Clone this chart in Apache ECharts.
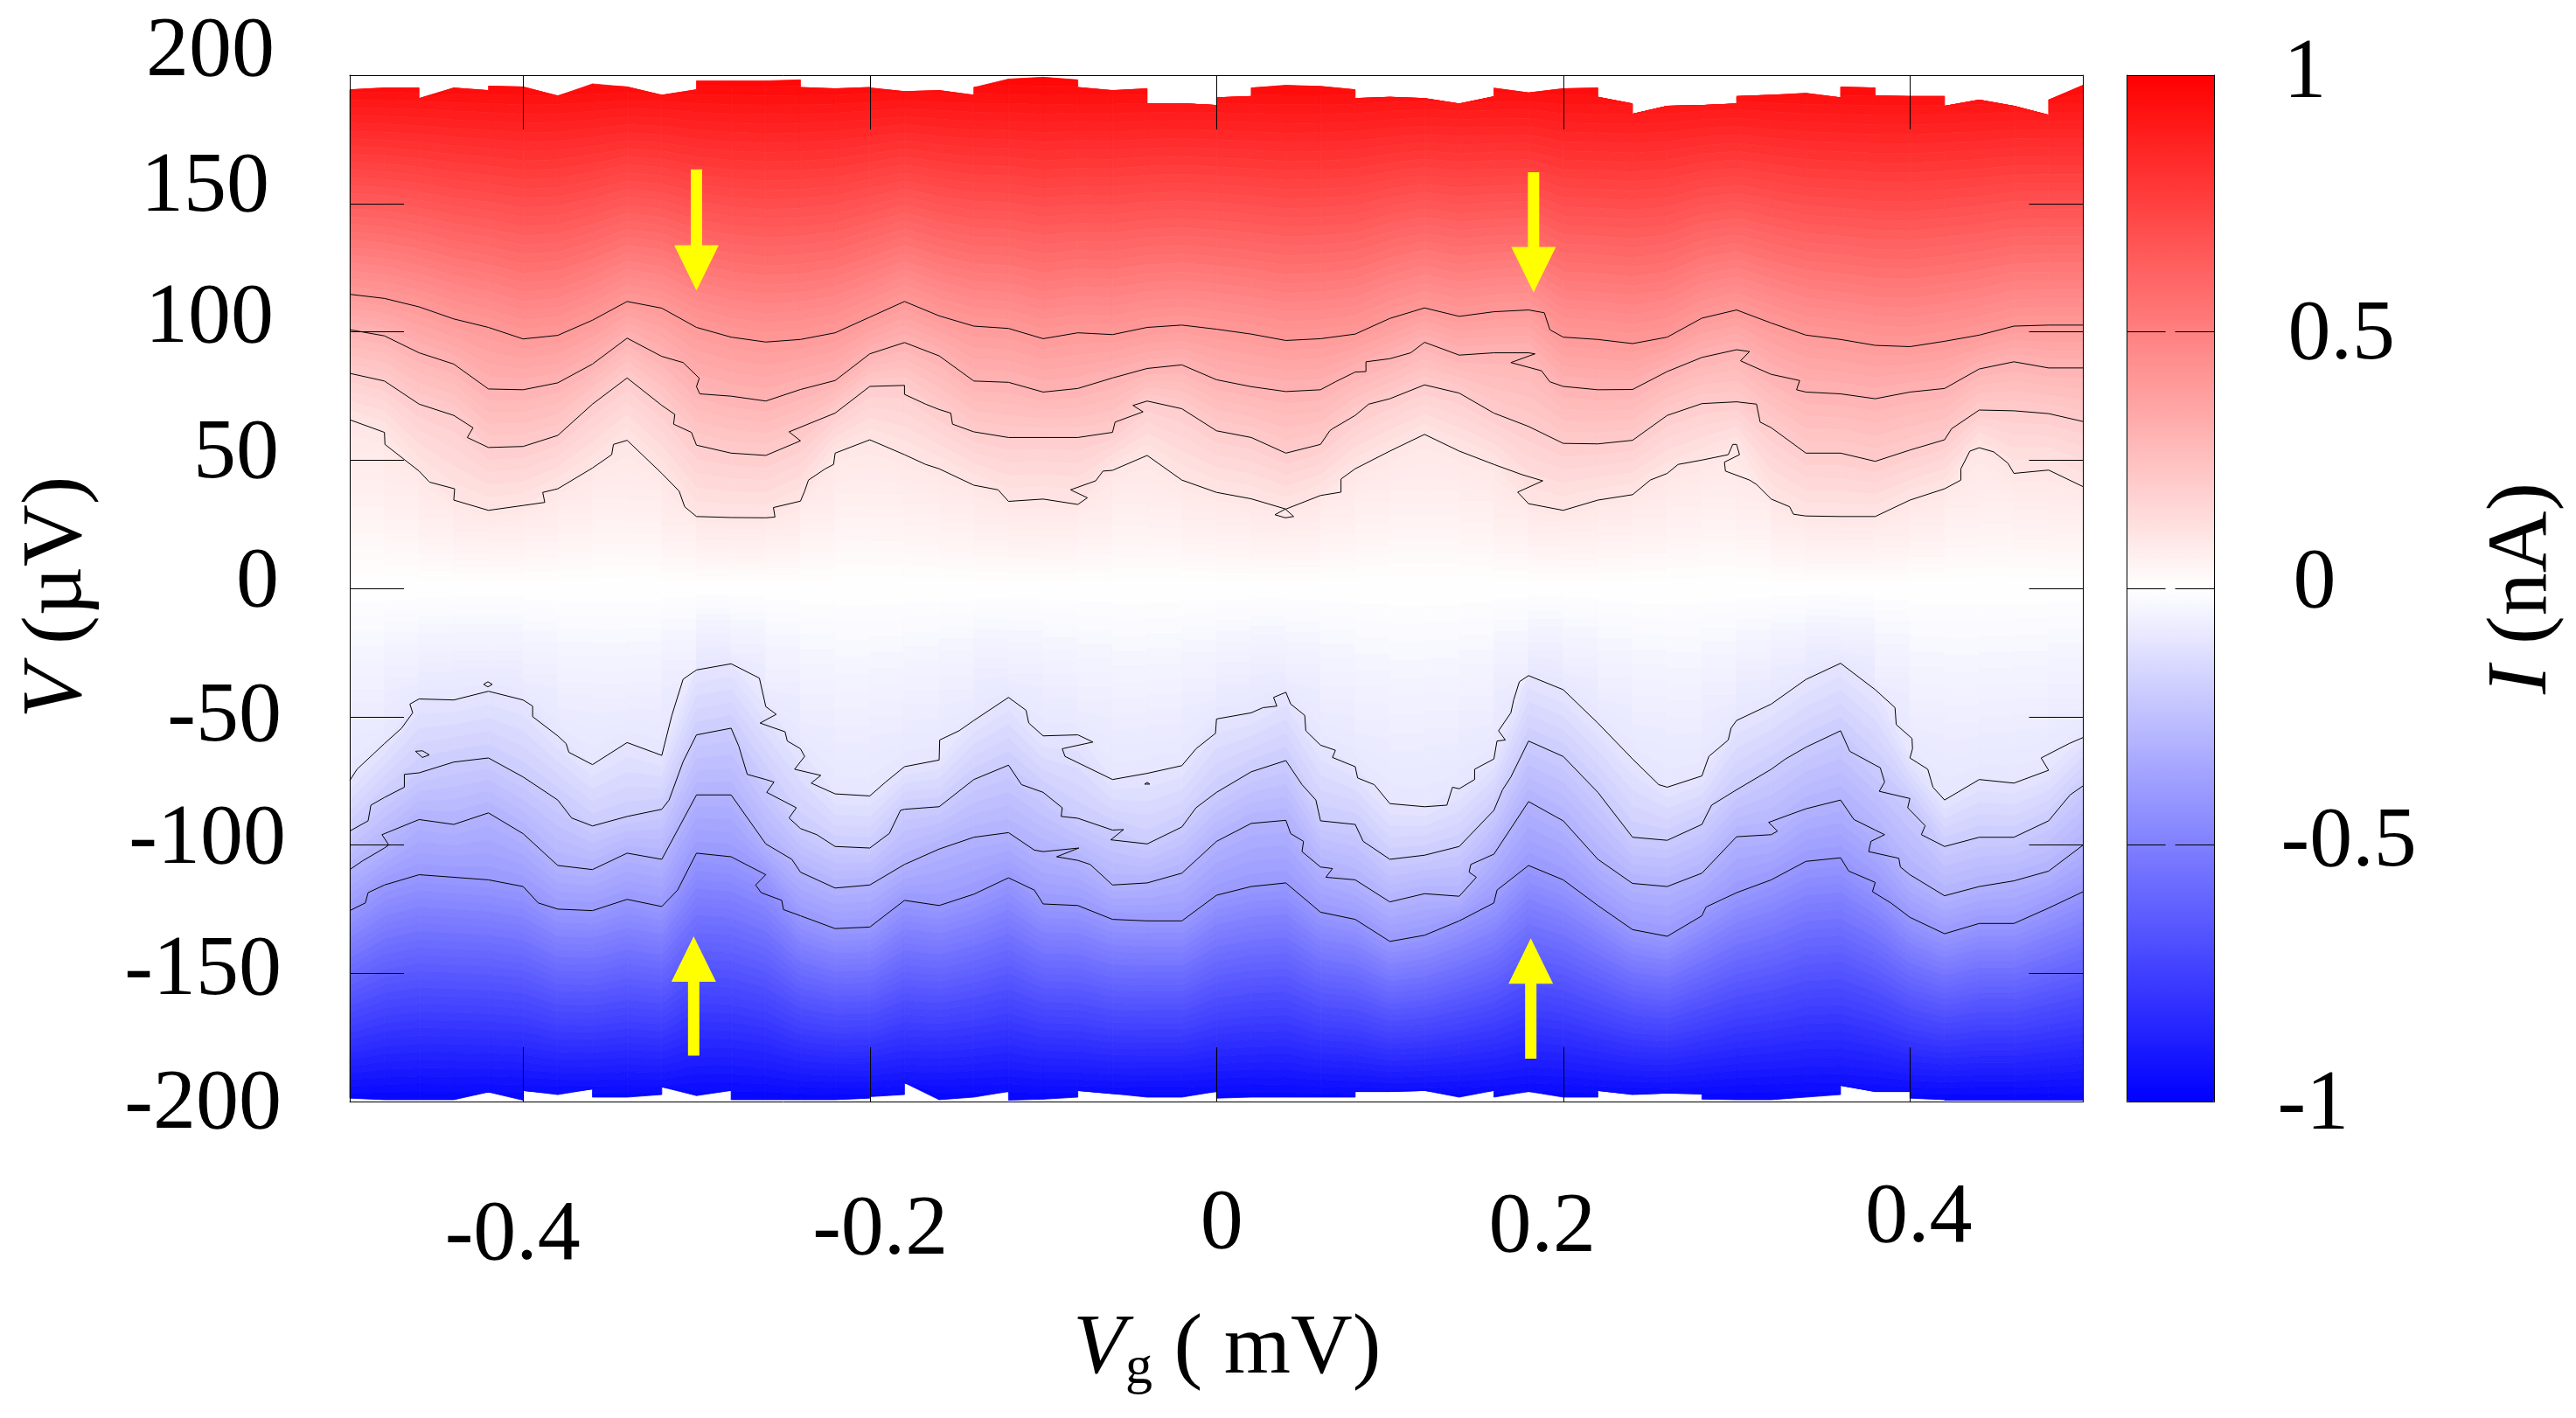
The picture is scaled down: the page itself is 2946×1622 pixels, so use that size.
<!DOCTYPE html>
<html><head><meta charset="utf-8">
<style>html,body{margin:0;padding:0;background:#fff}#c{width:2946px;height:1622px}</style>
<script src="https://cdn.jsdelivr.net/npm/echarts@6/dist/echarts.min.js"></script>
</head><body><div id="c"></div>
<script>
// ---- data (Vg in mV, V in uV, I in nA) ----
const vg = [-0.5,-0.48,-0.46,-0.44,-0.42,-0.4,-0.38,-0.36,-0.34,-0.32,-0.3,-0.28,-0.26,-0.24,-0.22,-0.2,-0.18,-0.16,-0.14,-0.12,-0.1,-0.08,-0.06,-0.04,-0.02,0,0.02,0.04,0.06,0.08,0.1,0.12,0.14,0.16,0.18,0.2,0.22,0.24,0.26,0.28,0.3,0.32,0.34,0.36,0.38,0.4,0.42,0.44,0.46,0.48,0.5];

// out-of-range boundary of each measured column: value at its left and right side
const topLeft  = [194.3,195,190.9,195,195.7,195.4,191.9,196.6,195.4,192.2,197.8,197.8,197.8,195.2,194.7,195,193.6,194,195.2,198.5,199.2,195.2,194,188.8,188.9,191.2,195,196.1,195.6,190.9,191.4,190.9,188.8,194.9,193.1,194.7,191.4,184.8,187.9,188.2,191.7,192.2,192.9,195.4,191.9,191.7,187.9,190.3,187.9,190.3];
const topRight = [195,195,195,194,195.4,191.9,196.6,195.4,192.2,194.3,197.8,197.8,198.2,194.7,195.2,193.6,194,192.2,198.5,199.2,198.2,194,194.7,188.9,188.2,191.7,196.1,195.6,194.3,191.4,190.9,188.8,191.6,193.1,194.7,195,188.8,187.9,188.2,188.8,192.2,192.9,191.2,195,191.7,191.7,190.3,187.9,184.4,196.1];
const botLeft  = [-198.7,-199.3,-199.3,-199.3,-196.3,-195.7,-197.3,-198.3,-198.3,-194.3,-197.7,-199.3,-199.3,-199.3,-199.3,-198.1,-192.7,-199.3,-198.3,-199.7,-199.1,-195.7,-196.9,-198.3,-198.3,-198.7,-198.3,-198.3,-198.3,-196.1,-196.1,-195.7,-198.3,-198.3,-196.1,-198.3,-195.7,-197.3,-196.7,-199.1,-199.3,-199.3,-198.3,-193.7,-196.1,-198.7,-199.5,-199.5,-199.5,-199.5];
const botRight = [-199.3,-199.3,-199.3,-196.3,-199.7,-197.3,-195.1,-198.3,-197.3,-197.7,-195.7,-199.3,-199.3,-199.3,-198.7,-197.3,-199.3,-198.3,-196.1,-199.1,-198.3,-196.9,-198.3,-198.3,-196.1,-198.3,-198.3,-198.3,-198.3,-196.1,-195.7,-198.3,-195.7,-196.1,-198.3,-198.3,-197.3,-196.7,-197.1,-199.3,-199.3,-198.3,-197.3,-196.1,-196.1,-199.3,-199.5,-199.5,-199.5,-199.7];

// contours: a number is V at the next column of vg; a pair [Vg, V] is a fold vertex between columns
const contourPos04 = [114.6,113,109.7,105,101.7,97.2,98.6,104.5,111.8,109.2,101.7,97.9,96,97,99.6,105.7,111.8,106.2,102.2,101.3,97.3,99.6,98.9,101.7,102.6,101,99.1,96.6,97.3,99.1,105.2,109.3,106,107.8,108.5,[0.1891,107.4],[0.1923,100.8],97.9,97,95.4,97.9,105.3,108.5,103.4,98.7,97,94.7,94.2,96.3,98.7,102.2,102.6,102.6];
const contourPos03 = [100.8,98.4,91.8,87.4,77.7,77.4,80.1,87.4,97.5,90.4,[-0.3077,88],[-0.2984,81.9],78.6,[-0.2981,75.8],74.9,73,77.5,81,91.4,95.8,90.6,80.8,80.3,76.5,77.9,82,85.7,87.1,81.3,78.6,76.7,77.4,[0.0686,80.5],84.3,[0.0862,84.5],[0.0862,88.3],89.5,[0.112,91.8],95.9,90.9,91.8,91.8,[0.1837,91.4],[0.1698,88],[0.1875,84.8],[0.1923,80.5],78.7,77.4,77.5,84.5,90,93,[0.3075,92.3],[0.3023,88.7],[0.3075,87.1],83.4,[0.3364,81],[0.3346,77.4],76.5,75.8,73.9,76.5,77.9,85.5,88.3,85.9,85.9];
const contourPos02 = [83.8,80.8,71.8,67.4,[-0.4289,62.6],[-0.4322,58.8],54.9,55.3,59.6,71.8,82,71.3,[-0.3125,67.8],[-0.3132,64],[-0.3029,60.8],55.8,52.7,51.8,57.5,[-0.2466,61],68.3,78.7,79.1,[-0.18,75.6],[-0.1678,71.8],69.7,[-0.1533,68.3],[-0.1523,64],61,58.8,58.8,58.8,60.8,[-0.0585,64.8],[-0.0424,68.8],[-0.0482,71.3],73,70,61.4,58.8,52.7,56.1,[0.0653,61.4],[0.0669,62.2],67.4,[0.0878,71.8],73.9,79.3,76.1,68.3,63.1,56.5,56.3,57.7,67.4,72,72.7,[0.3115,71.8],[0.3136,64.8],62.6,52.7,52.7,49.5,53.9,57.9,[0.424,62.2],69.5,69.2,68.1,65];
const contourPos01 = [65.7,60.8,[-0.4797,56.1],45.7,[-0.454,41.4],[-0.4395,38.8],34.4,30.4,32.3,[-0.3875,33.5],[-0.3887,37.4],38.8,46.9,[-0.3489,52.1],[-0.3479,56.1],57.7,44.8,[-0.31,37.9],[-0.3068,31.8],28,27.6,27.5,[-0.2547,27.8],[-0.2556,31.5],34,[-0.2376,37.9],[-0.2354,42.2],[-0.2257,46.6],[-0.2209,48.3],52.7,57.9,52.1,[-0.1678,48.3],46.6,40.2,[-0.126,38.4],33.9,34.8,32.7,[-0.0745,35.3],[-0.0842,38.4],[-0.0697,41.9],[-0.0655,45.7],46,51.8,42.2,37.4,34.9,30.9,36.2,[0.0718,37.5],[0.0718,42.6],46.6,53.5,60,53.5,48.3,[0.1763,44.3],[0.1882,41.9],[0.1737,37.5],33,30.4,34.4,36.5,[0.2502,42.2],44.8,[0.2663,48.3],50,[0.2952,52.1],[0.2978,56.1],56.1,[0.3017,52.1],[0.293,49.2],[0.2936,45.7],[0.3075,42.2],[0.3115,40.5],34.8,[0.3306,31.8],[0.3328,28.9],28.2,28,28,34.4,38.8,[0.4294,42.2],[0.4294,46.6],[0.4346,53.5],54.8,[0.4483,53.2],[0.4565,48.8],44.8,46.1,39.6];
const contourNeg01 = [-74.9,[-0.4958,-70.5],-60.5,[-0.4701,-54.5],[-0.4637,-48.5],[-0.4653,-45.1],-43.1,-43.5,-40.1,-43.5,[-0.3945,-45.9],[-0.3945,-50],-57.5,[-0.3752,-60.5],[-0.3736,-63.9],-68.7,-60.1,-65.1,[-0.3142,-49.5],[-0.3077,-35.4],-31.8,-29.4,[-0.2637,-35],-46.1,[-0.254,-49.1],[-0.2633,-52.5],[-0.2489,-55.9],[-0.2476,-59.5],-62.5,[-0.2376,-65.5],[-0.2434,-70.5],[-0.2283,-72.9],[-0.2338,-75.9],-80.1,-80.9,[-0.1909,-75.5],-69.5,-66.9,[-0.1597,-59.1],[-0.1485,-55.5],-51.5,-42.5,[-0.1099,-47.5],[-0.1083,-52.5],-57.5,-57.1,[-0.0713,-59.9],[-0.089,-62.5],[-0.0874,-65.5],-74.5,-72.1,-69.1,[-0.0118,-62.5],[-0.0006,-56.5],-50.9,-48.5,[0.0268,-46.5],[0.0348,-45.9],[0.0329,-42.5],-40.5,[0.0428,-45.1],[0.0509,-49.5],[0.0515,-55.5],-61.1,[0.0686,-63.1],[0.0669,-65.9],-69.5,[0.0814,-73.9],[0.091,-76.5],-83.9,-85.1,[0.1329,-84.5],[0.1361,-77.5],-78.1,[0.1489,-74.5],[0.1489,-70.5],-66.5,[0.1618,-59.5],[0.1666,-59.1],[0.1627,-55.5],[0.1698,-48.5],[0.1714,-43.5],[0.1747,-36.4],-34,-39.5,-52.5,-66.5,[0.2551,-76.5],-77.5,-73.1,[0.284,-65.5],[0.2952,-59.1],[0.2968,-54.5],-51.5,-45.1,-35.5,-29.2,-39.5,[0.3914,-46.5],[0.3921,-53.1],[0.4012,-58.5],[0.4015,-62.5],-66.1,[0.4103,-70.5],[0.4133,-77.5],-82.5,-74.5,-75.9,-70.9,[0.4757,-66.1],[0.4918,-60.5],-58.1];
const contourNeg02 = [-94.6,[-0.4894,-90.6],[-0.4878,-84.5],-81.5,[-0.4685,-77.5],[-0.4685,-72.5],-71.9,-67.7,-66.1,-73.5,-82.5,[-0.372,-89.5],-92.6,-88.9,-86.1,[-0.3158,-82.5],[-0.3077,-67.5],-57.1,-54.5,[-0.2756,-61.5],[-0.2707,-72.5],-74.5,[-0.2553,-75.5],[-0.2595,-79.5],[-0.2424,-85.5],[-0.2466,-89.5],-93.6,[-0.2306,-96],-100.6,-101.2,[-0.1887,-95.5],[-0.1823,-86.5],-86.1,-85.1,-74.5,-68.9,[-0.1125,-76.5],-79.5,[-0.089,-85.5],[-0.0896,-88.9],-89.6,-94.2,[-0.0536,-94],[-0.061,-98],-99.6,-93,[-0.0118,-85.5],-79.5,-71.5,-67.1,[0.0493,-76.5],[0.0573,-82.5],-90.6,-92,[0.0846,-98.6],-105.6,-104,-100.6,-86.5,[0.165,-78.5],[0.1698,-73.5],-59.5,-65.5,-79.5,-97,-98.2,-92,[0.2856,-84.5],-78.5,-70.5,[0.3282,-66.5],-61.9,-55.5,[0.3653,-63.5],-68.9,[0.3829,-69.9],[0.3854,-75.5],[0.3823,-79.1],-81.9,[0.3987,-85.5],[0.4088,-92.5],[0.4066,-96],-100.6,-97,-97,-90.6,[0.4924,-80.5],-76.9];
const contourNeg03 = [-109.6,[-0.4926,-106.2],-101.2,[-0.4775,-100],[-0.4814,-96],-90.1,-92,-87.5,-95.6,-108,-109.6,-103.2,-105.6,-80.5,-80.5,-99.6,[-0.245,-105.6],-110.6,-116.8,-115.6,-107.6,-101.6,-97,-95.2,[-0.1051,-102],-102.6,[-0.0794,-101.2],[-0.0922,-104.6],-106,[-0.0729,-107.6],-115.6,-114.8,-111,-98.6,-91.6,-90.4,[0.0428,-95.6],[0.0502,-98.6],[0.0493,-102.6],-108.6,[0.0669,-109.2],[0.0631,-112.6],-113.6,-122.2,-119,-120,[0.1499,-112.6],[0.1457,-110.6],[0.1467,-107.6],-103.6,-83.1,-90.6,-105.6,-115,-116.2,-111,-96.8,-96,[0.3236,-94.6],[0.3185,-91.2],-85.9,-82.5,[0.3677,-90.1],-94.2,[0.3854,-96],[0.3775,-98.6],[0.3762,-102.6],[0.3936,-105.2],[0.3945,-108.6],-111.6,-119.8,-116.2,-114,-110.2,-100];
const contourNeg04 = [-125.6,[-0.491,-122.6],[-0.4894,-118.6],-115.6,-111.6,-112.6,-113.6,-116.2,[-0.3913,-122.6],-125,-125.6,-121.2,-124,[-0.3109,-117.6],-103.2,-104.6,-111.6,[-0.2659,-115.6],[-0.2627,-118.6],[-0.2508,-121.6],[-0.2498,-125.2],-127.6,-132.6,-132,-121.6,-123.6,-119.2,-112.8,[-0.1051,-117.6],-123,-123.6,-129,-129.6,-129.6,-119.6,-116.2,-114.8,-126.2,-129,-137.6,-135.2,-129.6,-122.6,[0.1618,-117.6],-108,-113.6,-123.6,-133,-135.6,-127.6,[0.2824,-124.2],-118.6,-113.6,-106.4,-105,[0.3647,-110.2],-114.6,[0.3784,-118.2],[0.389,-122.6],-128.2,-134.6,-130.6,-130.6,-124.6,-118.2];

// small closed contour islands
const islandA = [[0.0397,30.9],[0.0337,28.7],[0.0397,27.5],[0.0445,28],[0.0397,30.9]];
const islandB = [[-0.4203,-36.4],[-0.4228,-37.4],[-0.4203,-38.4],[-0.4178,-37.4],[-0.4203,-36.4]];
const islandC = [[-0.4621,-63.5],[-0.4581,-63.3],[-0.4541,-64.9],[-0.4581,-65.9],[-0.4621,-63.5]];
const islandD = [[-0.04,-75.6],[-0.0415,-76.3],[-0.0385,-76.3],[-0.04,-75.6]];

const contourLevels = [0.4,0.3,0.2,0.1,-0.1,-0.2,-0.3,-0.4];

// yellow arrows
const arrowVg   = [-0.3,0.1829,-0.3016,0.1813];
const arrowTail = [163.3,162.2,-182.1,-183.3];
const arrowTip  = [116,115.3,-135.6,-136.4];

// tick labels
const xTickValues = [-0.4,-0.2,0,0.2,0.4];
const xTickLabels = ['-0.4','-0.2','0','0.2','0.4'];
const yTickValues = [-200,-150,-100,-50,0,50,100,150,200];
const barTickValues = [-1,-0.5,0,0.5,1];
const colormap = ['#0000ff','#ffffff','#ff0000'];

// ---- styling ----
const FONT = 'Liberation Serif', FS = 98;
const xNudge = [[-12,72],[12,60],[6,46],[-24,55],[10,32]];             // [shift right, push down]
const yNudge = [[8,-4],[8,2],[3,5],[8,-2],[11,6],[11,6],[17,14],[22,17],[16,26]]; // [pad right, lift]
const barNudge = [[2,-5],[6,2],[20,5],[14,-5],[9,1]];                  // [pad left, lift]

function tok(o){return Object.assign({fontFamily:FONT,fontSize:FS,lineHeight:104,color:'#000'},o);}
const xRich={},yRich={},barRich={};
xNudge.forEach((n,i)=>{xRich['x'+i]=tok({padding:[n[1],n[0]<0?-2*n[0]:0,0,n[0]>0?2*n[0]:0]});});
yNudge.forEach((n,i)=>{yRich['y'+i]=tok({lineHeight:60,height:60,padding:[n[1]<0?-2*n[1]:0,n[0],n[1]>0?2*n[1]:0,0]});});
barNudge.forEach((n,i)=>{barRich['b'+i]=tok({lineHeight:60,height:60,padding:[n[1]<0?-2*n[1]:0,0,n[1]>0?2*n[1]:0,n[0]]});});
function nearest(arr,v){let b=0;arr.forEach((a,i)=>{if(Math.abs(a-v)<Math.abs(arr[b]-v))b=i;});return b;}

// ---- build contours ----
function build(rows){const pts=[],knots=[];let c=0;rows.forEach(r=>{if(typeof r==='number'){pts.push([vg[c],r]);knots.push(r);c++;}else pts.push(r);});
  if(knots.length!==vg.length)console.error('contour length',knots.length);return{pts,knots};}
const contours=[contourPos04,contourPos03,contourPos02,contourPos01,contourNeg01,contourNeg02,contourNeg03,contourNeg04].map(build);

function colorAt(I){const a=Math.min(1,Math.abs(I));const w=Math.round(255*(1-a));
  return I>=0?`rgb(255,${w},${w})`:`rgb(${w},${w},255)`;}

// The measured columns: each cell paints bands between the contour crossings, up to the out-of-range edge
const FULL_SCALE_V = 199.5;
function renderCell(params,api){
  const i=api.value(2), x0=vg[i], x1=vg[i+1];
  const L=[FULL_SCALE_V], R=[FULL_SCALE_V], lv=[0.98];
  for(let k=0;k<4;k++){L.push(contours[k].knots[i]);R.push(contours[k].knots[i+1]);lv.push(contourLevels[k]);}
  L.push(0);R.push(0);lv.push(0);
  for(let k=4;k<8;k++){L.push(contours[k].knots[i]);R.push(contours[k].knots[i+1]);lv.push(contourLevels[k]);}
  L.push(-FULL_SCALE_V);R.push(-FULL_SCALE_V);lv.push(-0.98);
  const clampL=v=>Math.max(botLeft[i],Math.min(topLeft[i],v));
  const clampR=v=>Math.max(botRight[i],Math.min(topRight[i],v));
  const children=[];
  for(let b=0;b<L.length-1;b++){
    const span=Math.abs(lv[b+1]-lv[b]);
    const inner=(lv[b]===0||lv[b+1]===0);
    const n=inner?12:(span>0.2?28:5);
    const mA=(L[b]+R[b])/2,mB=(L[b+1]+R[b+1])/2;
    for(let j=0;j<n;j++){
      const t0=j/n,t1=(j+1)/n;
      const edge=(a,b2,m1,m2,t)=>{let v1=a,v2=b2;if(inner){const w=Math.min(1,lv[b]===0?(1-t)*3:t*3);v1=a*(1-w)+m1*w;v2=b2*(1-w)+m2*w;}return v1*(1-t)+v2*t;};
      const p=[api.coord([x0,clampL(edge(L[b],L[b+1],mA,mB,t0))]),api.coord([x1,clampR(edge(R[b],R[b+1],mA,mB,t0))]),api.coord([x1,clampR(edge(R[b],R[b+1],mA,mB,t1))]),api.coord([x0,clampL(edge(L[b],L[b+1],mA,mB,t1))])];
      const c=colorAt(lv[b]+(lv[b+1]-lv[b])*(j+0.5)/n);
      children.push({type:'polygon',shape:{points:p},style:{fill:c,stroke:c,lineWidth:0.8},silent:true});
    }
  }
  return{type:'group',children};
}
function renderArrow(params,api){
  const x=api.value(0),tail=api.coord([x,api.value(1)]),tip=api.coord([x,api.value(2)]);
  const d=tip[1]>tail[1]?1:-1,hl=52,hw=25.5,sw=6.5,cx=tip[0],neck=tip[1]-d*hl;
  return{type:'polygon',shape:{points:[[cx-sw,tail[1]],[cx+sw,tail[1]],[cx+sw,neck],[cx+hw,neck],[cx,tip[1]],[cx-hw,neck],[cx-sw,neck]]},style:{fill:'#ffff00'},silent:true};
}

const lineAxis={show:true,onZero:false,lineStyle:{color:'#000',width:1}};
const tickIn=(len)=>({show:true,inside:true,length:len,lineStyle:{color:'#000',width:1}});
const PX0=400,PW=1982.5,PT=86,PH=1174,BX=2432.6,BW=100;

const chart=echarts.init(document.getElementById('c'),null,{width:2946,height:1622,renderer:'canvas'});
const cellData=vg.slice(0,-1).map((x,i)=>[x,0,i]);
const contourLine={color:'#000',width:1};
const lineSeries=contours.map(c=>({type:'line',data:c.pts,xAxisIndex:0,yAxisIndex:0,showSymbol:false,symbol:'none',silent:true,z:3,animation:false,lineStyle:contourLine}));
[islandA,islandB,islandC,islandD].forEach(d=>lineSeries.push({type:'line',data:d,xAxisIndex:0,yAxisIndex:0,showSymbol:false,symbol:'none',silent:true,z:3,animation:false,lineStyle:contourLine}));

chart.setOption({
  animation:false,backgroundColor:'#fff',
  grid:[{left:PX0,top:PT,width:PW,height:PH,containLabel:false,outerBoundsMode:'none'},{left:BX,top:PT,width:BW,height:PH,containLabel:false,outerBoundsMode:'none'}],
  visualMap:{type:'continuous',min:-1,max:1,seriesIndex:[],left:BX,top:PT,itemWidth:BW,itemHeight:PH,padding:0,calculable:false,hoverLink:false,inRange:{color:colormap},z:1},
  xAxis:[
    {type:'value',gridIndex:0,position:'bottom',min:-0.5,max:0.5,z:6,splitLine:{show:false},axisLine:lineAxis,
     axisTick:Object.assign(tickIn(62),{customValues:xTickValues}),
     axisLabel:{customValues:xTickValues,margin:66,hideOverlap:false,rich:xRich,formatter:v=>{const i=nearest(xTickValues,v);return `{x${i}|${xTickLabels[i]}}`;}},
     name:'{i|V}{s|g}{r| ( mV)}',nameLocation:'middle',nameGap:232,nameMoveOverlap:false,
     nameTextStyle:{rich:{i:tok({fontStyle:'italic'}),s:tok({fontSize:62,padding:[44,0,0,0]}),r:tok({padding:[0,0,0,0]})},padding:[0,0,0,24]}},
    {type:'value',gridIndex:0,position:'top',min:-0.5,max:0.5,z:6,splitLine:{show:false},axisLine:lineAxis,axisTick:Object.assign(tickIn(62),{customValues:xTickValues}),axisLabel:{show:false}},
    {type:'value',gridIndex:1,position:'bottom',min:0,max:1,z:6,splitLine:{show:false},axisLine:lineAxis,axisTick:{show:false},axisLabel:{show:false}},
    {type:'value',gridIndex:1,position:'top',min:0,max:1,z:6,splitLine:{show:false},axisLine:lineAxis,axisTick:{show:false},axisLabel:{show:false}}
  ],
  yAxis:[
    {type:'value',gridIndex:0,position:'left',min:-200,max:200,interval:50,z:6,splitLine:{show:false},axisLine:lineAxis,axisTick:tickIn(62),
     axisLabel:{margin:70,showMinLabel:true,showMaxLabel:true,hideOverlap:false,rich:yRich,formatter:v=>`{y${nearest(yTickValues,v)}|${v}}`},
     name:'{i|V}{r| (µV)}',nameLocation:'middle',nameRotate:90,nameGap:282,nameMoveOverlap:false,
     nameTextStyle:{rich:{i:tok({fontStyle:'italic'}),r:tok({padding:[0,20,0,0]})}}},
    {type:'value',gridIndex:0,position:'right',min:-200,max:200,interval:50,z:6,splitLine:{show:false},axisLine:lineAxis,axisTick:tickIn(62),axisLabel:{show:false}},
    {type:'value',gridIndex:1,position:'left',min:-1,max:1,interval:0.5,z:6,splitLine:{show:false},axisLine:lineAxis,axisTick:tickIn(44),axisLabel:{show:false}},
    {type:'value',gridIndex:1,position:'right',min:-1,max:1,interval:0.5,z:6,splitLine:{show:false},axisLine:lineAxis,axisTick:tickIn(45),
     axisLabel:{margin:70,showMinLabel:true,showMaxLabel:true,hideOverlap:false,rich:barRich,formatter:v=>`{b${nearest(barTickValues,v)}|${v}}`},
     name:'{i|I}{r| (nA)}',nameLocation:'middle',nameRotate:90,nameGap:301,nameMoveOverlap:false,
     nameTextStyle:{rich:{i:tok({fontStyle:'italic'}),r:tok({})}}}
  ],
  series:[
    {type:'custom',name:'I(Vg,V)',xAxisIndex:0,yAxisIndex:0,data:cellData,renderItem:renderCell,z:1,silent:true,animation:false,encode:{x:0,y:1}},
    ...lineSeries,
    {type:'custom',name:'arrows',xAxisIndex:0,yAxisIndex:0,data:arrowVg.map((x,i)=>[x,arrowTail[i],arrowTip[i]]),renderItem:renderArrow,z:4,silent:true,animation:false,encode:{x:0,y:[1,2]}}
  ]
});
</script></body></html>
